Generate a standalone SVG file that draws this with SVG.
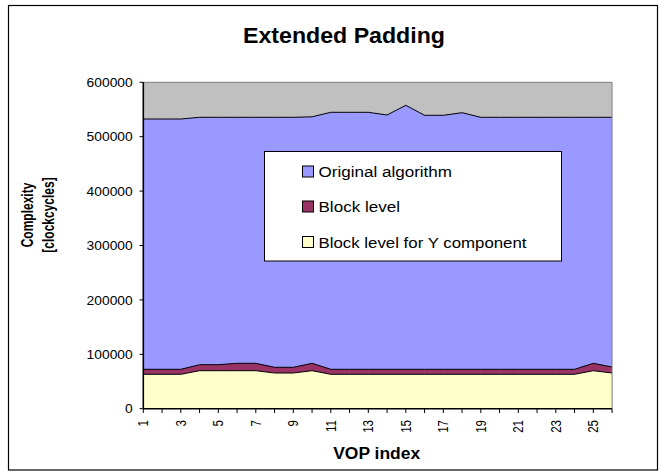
<svg xmlns="http://www.w3.org/2000/svg" width="667" height="476" viewBox="0 0 667 476">
<style>
text{font-family:"Liberation Sans",Arial,sans-serif;fill:#000}
.b{font-weight:bold}
.yl{font-size:12.8px;text-anchor:end}
.xl{font-size:11.5px;text-anchor:end}
.lg{font-size:15.4px}
.ol{fill:none;stroke:#000;stroke-width:1;stroke-linejoin:round}
.tick{stroke:#000;stroke-width:1}
</style>
<rect x="0" y="0" width="667" height="476" fill="#fff"/>
<rect id="frame" x="8.5" y="5.5" width="649" height="464.5" fill="#fff" stroke="#000" stroke-width="1.2"/>
<g id="title"><text class="b" x="344" y="43.3" font-size="22.5" text-anchor="middle" textLength="202" lengthAdjust="spacingAndGlyphs">Extended Padding</text></g>
<g id="plot">
<rect x="143.3" y="82.3" width="468.75" height="326.4" fill="#C0C0C0"/>
<polygon fill="#9999FF" points="143.3,119 162.05,119 180.8,119 199.55,117.3 218.3,117.3 237.05,117.3 255.8,117.3 274.55,117.3 293.3,117.3 312.05,116.8 330.8,112.3 349.55,112.3 368.3,112.3 387.05,115 405.8,105.3 424.55,115.3 443.3,115.3 462.05,112.7 480.8,117.3 499.55,117.3 518.3,117.3 537.05,117.3 555.8,117.3 574.55,117.3 593.3,117.3 612.05,117.3 612.05,408.7 143.3,408.7"/>
<polygon fill="#993366" points="143.3,369.3 162.05,369.3 180.8,369.3 199.55,364.7 218.3,364.7 237.05,363.3 255.8,363.3 274.55,367.3 293.3,367.3 312.05,363.3 330.8,369.3 349.55,369.3 368.3,369.3 387.05,369.3 405.8,369.3 424.55,369.3 443.3,369.3 462.05,369.3 480.8,369.3 499.55,369.3 518.3,369.3 537.05,369.3 555.8,369.3 574.55,369.3 593.3,363.3 612.05,367 612.05,408.7 143.3,408.7"/>
<polygon fill="#FFFFCC" points="143.3,374.3 162.05,374.3 180.8,374.3 199.55,370.7 218.3,370.7 237.05,370.7 255.8,370.7 274.55,373 293.3,373 312.05,370.7 330.8,374.3 349.55,374.3 368.3,374.3 387.05,374.3 405.8,374.3 424.55,374.3 443.3,374.3 462.05,374.3 480.8,374.3 499.55,374.3 518.3,374.3 537.05,374.3 555.8,374.3 574.55,374.3 593.3,370.7 612.05,373 612.05,408.7 143.3,408.7"/>
<polyline class="ol" points="143.3,119 162.05,119 180.8,119 199.55,117.3 218.3,117.3 237.05,117.3 255.8,117.3 274.55,117.3 293.3,117.3 312.05,116.8 330.8,112.3 349.55,112.3 368.3,112.3 387.05,115 405.8,105.3 424.55,115.3 443.3,115.3 462.05,112.7 480.8,117.3 499.55,117.3 518.3,117.3 537.05,117.3 555.8,117.3 574.55,117.3 593.3,117.3 612.05,117.3"/>
<polyline class="ol" points="143.3,369.3 162.05,369.3 180.8,369.3 199.55,364.7 218.3,364.7 237.05,363.3 255.8,363.3 274.55,367.3 293.3,367.3 312.05,363.3 330.8,369.3 349.55,369.3 368.3,369.3 387.05,369.3 405.8,369.3 424.55,369.3 443.3,369.3 462.05,369.3 480.8,369.3 499.55,369.3 518.3,369.3 537.05,369.3 555.8,369.3 574.55,369.3 593.3,363.3 612.05,367"/>
<polyline class="ol" points="143.3,374.3 162.05,374.3 180.8,374.3 199.55,370.7 218.3,370.7 237.05,370.7 255.8,370.7 274.55,373 293.3,373 312.05,370.7 330.8,374.3 349.55,374.3 368.3,374.3 387.05,374.3 405.8,374.3 424.55,374.3 443.3,374.3 462.05,374.3 480.8,374.3 499.55,374.3 518.3,374.3 537.05,374.3 555.8,374.3 574.55,374.3 593.3,370.7 612.05,373"/>
<polyline points="143.3,82.3 612.05,82.3 612.05,408.7" fill="none" stroke="#808080" stroke-width="1"/>
</g>
<g id="axes">
<line x1="143.3" y1="82.3" x2="143.3" y2="409" stroke="#000" stroke-width="1.6"/>
<line x1="143.3" y1="408.7" x2="612.05" y2="408.7" stroke="#000" stroke-width="1.6"/>
<path class="tick" d="M139.5 82.3H143.3M139.5 136.7H143.3M139.5 191.1H143.3M139.5 245.5H143.3M139.5 299.9H143.3M139.5 354.3H143.3M139.5 408.7H143.3"/>
<path class="tick" d="M143.3 408.7V413M162.05 408.7V413M180.8 408.7V413M199.55 408.7V413M218.3 408.7V413M237.05 408.7V413M255.8 408.7V413M274.55 408.7V413M293.3 408.7V413M312.05 408.7V413M330.8 408.7V413M349.55 408.7V413M368.3 408.7V413M387.05 408.7V413M405.8 408.7V413M424.55 408.7V413M443.3 408.7V413M462.05 408.7V413M480.8 408.7V413M499.55 408.7V413M518.3 408.7V413M537.05 408.7V413M555.8 408.7V413M574.55 408.7V413M593.3 408.7V413M612.05 408.7V413"/>
<text class="yl" transform="translate(132.7,86.9) scale(1.08,1)">600000</text>
<text class="yl" transform="translate(132.7,141.3) scale(1.08,1)">500000</text>
<text class="yl" transform="translate(132.7,195.7) scale(1.08,1)">400000</text>
<text class="yl" transform="translate(132.7,250.1) scale(1.08,1)">300000</text>
<text class="yl" transform="translate(132.7,304.5) scale(1.08,1)">200000</text>
<text class="yl" transform="translate(132.7,358.9) scale(1.08,1)">100000</text>
<text class="yl" transform="translate(132.7,413.3) scale(1.08,1)">0</text>
<text class="xl" transform="translate(148.4,420) scale(1.25,1) rotate(-90)">1</text>
<text class="xl" transform="translate(185.9,420) scale(1.25,1) rotate(-90)">3</text>
<text class="xl" transform="translate(223.4,420) scale(1.25,1) rotate(-90)">5</text>
<text class="xl" transform="translate(260.9,420) scale(1.25,1) rotate(-90)">7</text>
<text class="xl" transform="translate(298.4,420) scale(1.25,1) rotate(-90)">9</text>
<text class="xl" transform="translate(335.9,420) scale(1.25,1) rotate(-90)">11</text>
<text class="xl" transform="translate(373.4,420) scale(1.25,1) rotate(-90)">13</text>
<text class="xl" transform="translate(410.9,420) scale(1.25,1) rotate(-90)">15</text>
<text class="xl" transform="translate(448.4,420) scale(1.25,1) rotate(-90)">17</text>
<text class="xl" transform="translate(485.9,420) scale(1.25,1) rotate(-90)">19</text>
<text class="xl" transform="translate(523.4,420) scale(1.25,1) rotate(-90)">21</text>
<text class="xl" transform="translate(560.9,420) scale(1.25,1) rotate(-90)">23</text>
<text class="xl" transform="translate(598.4,420) scale(1.25,1) rotate(-90)">25</text>
<text class="b" x="376.7" y="459" font-size="15.8" text-anchor="middle" textLength="87" lengthAdjust="spacingAndGlyphs">VOP index</text>
<text class="b" font-size="12" text-anchor="middle" transform="translate(32.6,215) scale(1.32,1) rotate(-90)">Complexity</text>
<text class="b" font-size="12" text-anchor="middle" transform="translate(54.2,215) scale(1.32,1) rotate(-90)">[clockcycles]</text>
</g>
<g id="legend">
<rect x="264.5" y="151.5" width="297" height="109.5" fill="#fff" stroke="#000" stroke-width="1"/>
<rect x="302.5" y="166" width="11" height="11" fill="#9999FF" stroke="#000" stroke-width="1"/>
<rect x="302.5" y="201" width="11" height="11" fill="#993366" stroke="#000" stroke-width="1"/>
<rect x="302.5" y="236.5" width="11" height="11" fill="#FFFFCC" stroke="#000" stroke-width="1"/>
<text class="lg" x="318.5" y="177" textLength="133.5" lengthAdjust="spacingAndGlyphs">Original algorithm</text>
<text class="lg" x="318.5" y="212" textLength="81.5" lengthAdjust="spacingAndGlyphs">Block level</text>
<text class="lg" x="318.5" y="247.5" textLength="208" lengthAdjust="spacingAndGlyphs">Block level for Y component</text>
</g>
</svg>
